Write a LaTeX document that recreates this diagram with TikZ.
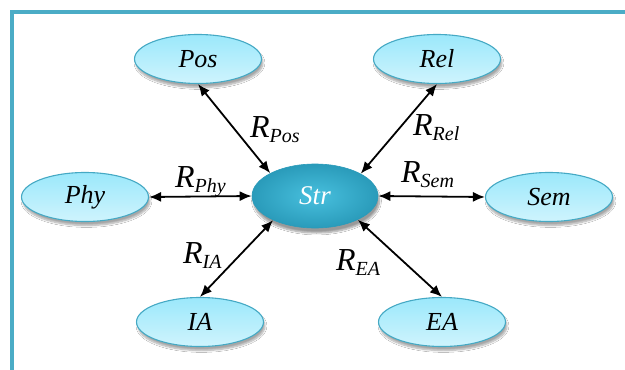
\documentclass[tikz,border=0pt]{standalone}
\usepackage{fontspec}
\setmainfont{Liberation Serif}[ItalicFont={Liberation Serif Italic}]
\newfontfamily\tnri{Liberation Serif Italic}
\usetikzlibrary{arrows.meta,shapes.geometric,shadows.blur}
\definecolor{framec}{HTML}{4BACC6}
\definecolor{lightA}{HTML}{9BE8FB}
\definecolor{lightB}{HTML}{CFF4FD}
\definecolor{edgeL}{HTML}{45A9C4}
\definecolor{strA}{HTML}{48C0DE}
\definecolor{strB}{HTML}{2A9BBA}
\newcommand\rlab[1]{{\tnri\fontsize{32}{32}\selectfont R}\raisebox{-5pt}{\tnri\fontsize{20}{20}\selectfont #1}}
\tikzset{
  leaf/.style={ellipse, draw=edgeL, line width=1.1pt, top color=lightA, middle color=lightA, bottom color=lightB,
    minimum width=127pt, minimum height=49pt, inner sep=0pt,
    font=\tnri\fontsize{26}{26}\selectfont,
    blur shadow={shadow xshift=1.5pt, shadow yshift=-4pt, shadow blur steps=8, shadow opacity=35}},
  hub/.style={ellipse, draw=strB, line width=0.6pt, inner color=strA, outer color=strB,
    minimum width=126pt, minimum height=64pt, inner sep=0pt, text=white,
    font=\tnri\fontsize{27}{27}\selectfont,
    blur shadow={shadow xshift=1.5pt, shadow yshift=-5pt, shadow blur steps=8, shadow opacity=40}},
  conn/.style={{Latex[length=12pt,width=10pt]}-{Latex[length=12pt,width=10pt]}, line width=1.8pt, black},
  lab/.style={inner sep=0pt, anchor=base west},
  framel/.style={draw=framec, line width=4pt, line join=miter}
}
\begin{document}
\begin{tikzpicture}[x=1pt,y=-1pt]
\useasboundingbox (0,0) rectangle (625,370);
\fill[white] (0,0) rectangle (625,370);
\coordinate (fbl) at (12,372);
\coordinate (ftl) at (12,11.5);
\coordinate (ftr) at (627,11.5);
\draw[framel] (fbl) -- (ftl) -- (ftr);

\node[hub] (str) at (315,196) {Str};
\node[leaf] (pos) at (198,59) {Pos};
\node[leaf] (rel) at (437,59) {Rel};
\node[leaf] (phy) at (85,197) {Phy};
\node[leaf] (sem) at (549,197) {Sem};
\node[leaf] (ia) at (200,322) {IA};
\node[leaf] (ea) at (442,322) {EA};

\draw[conn] (pos.south) -- (str.153);
\draw[conn] (rel.south) -- (str.26);
\draw[conn] (phy.east) -- (str.west);
\draw[conn] (sem.west) -- (str.east);
\draw[conn] (ia.north) -- (str.210);
\draw[conn] (ea.north) -- (str.331);

\node[lab] (lpos) at (250,137) {\rlab{Pos}};
\node[lab] (lrel) at (413,135) {\rlab{Rel}};
\node[lab] (lphy) at (175,187) {\rlab{Phy}};
\node[lab] (lsem) at (401,182) {\rlab{Sem}};
\node[lab] (lia) at (183,263) {\rlab{IA}};
\node[lab] (lea) at (336,270) {\rlab{EA}};
\end{tikzpicture}
\end{document}
